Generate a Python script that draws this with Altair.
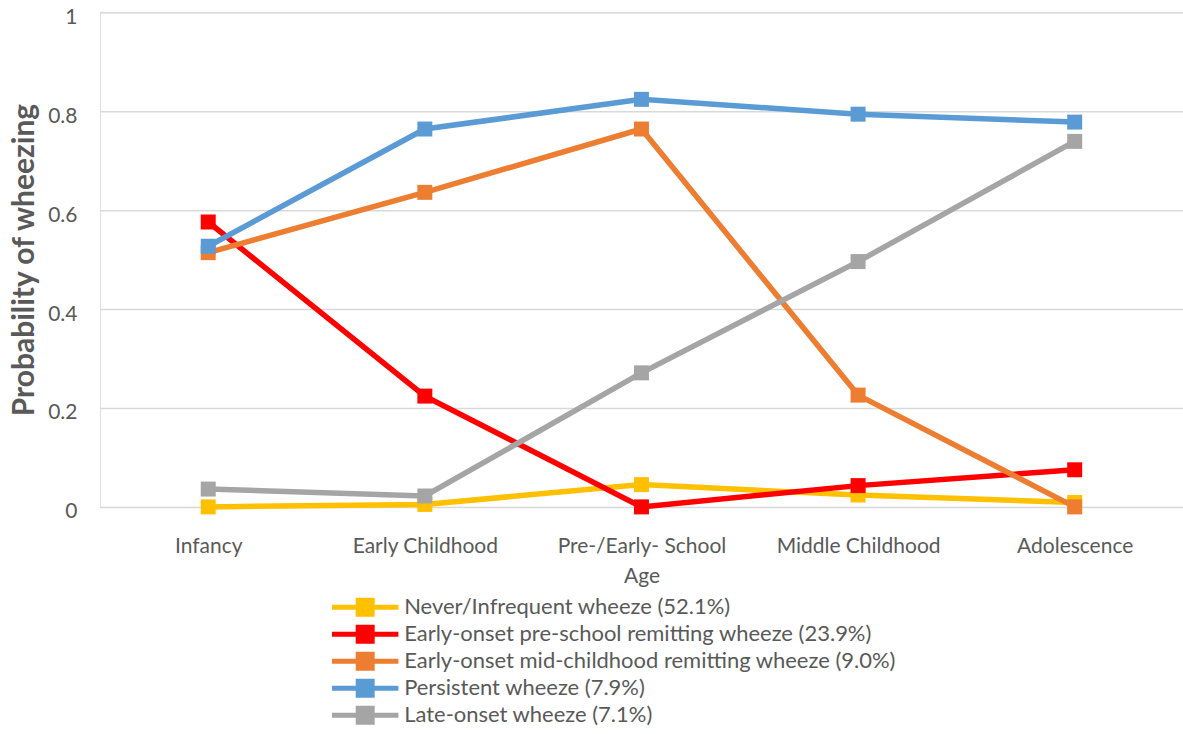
import altair as alt
import pandas as pd

stages = ["Infancy", "Early Childhood", "Pre-/Early- School Age", "Middle Childhood", "Adolescence"]
series = [
    "Never/Infrequent wheeze (52.1%)",
    "Early-onset pre-school remitting wheeze (23.9%)",
    "Early-onset mid-childhood remitting wheeze (9.0%)",
    "Persistent wheeze (7.9%)",
    "Late-onset wheeze (7.1%)",
]
colors = ["#FFC000", "#FF0000", "#ED7D31", "#5B9BD5", "#A5A5A5"]

never = [0.0, 0.005, 0.045, 0.024, 0.009]
preschool = [0.576, 0.224, 0.0, 0.043, 0.075]
midchild = [0.514, 0.636, 0.764, 0.226, 0.0]
persistent = [0.527, 0.764, 0.824, 0.794, 0.778]
late = [0.036, 0.022, 0.271, 0.496, 0.739]

values = [never, preschool, midchild, persistent, late]
rows = []
for s, vals in zip(series, values):
    for st, v in zip(stages, vals):
        rows.append({"stage": st, "series": s, "p": v})
df = pd.DataFrame(rows)

FONT = "Lato"
GREY = "#595959"
legend_path = "M-3.5,-0.27H3.5V0.27H-3.5Z M-1,-1H1V1H-1Z"

chart = alt.Chart(df).mark_line(
    strokeWidth=5.5,
    point=alt.OverlayMarkDef(shape="square", size=225, filled=True, opacity=1),
).encode(
    x=alt.X("stage:N", sort=stages, scale=alt.Scale(paddingOuter=0.5),
            axis=alt.Axis(title=None, labelAngle=0, labelFontSize=21, labelColor=GREY,
                          labelFont=FONT, labelPadding=29, labelLineHeight=30,
                          ticks=False, domain=False, grid=False,
                          labelExpr="datum.label == 'Pre-/Early- School Age' ? ['Pre-/Early- School', 'Age'] : datum.label")),
    y=alt.Y("p:Q", scale=alt.Scale(domain=[0, 1], nice=False),
            axis=alt.Axis(title="Probability of wheezing", values=[0, 0.2, 0.4, 0.6, 0.8, 1],
                          labelExpr="datum.value == 0 || datum.value == 1 ? format(datum.value, 'd') : format(datum.value, '.1f')",
                          labelFontSize=21, labelColor=GREY, labelFont=FONT, labelPadding=23,
                          labelFlush=False, labelOverlap=False, labelOffset=5,
                          ticks=False, domain=False, gridColor="#D9D9D9", gridWidth=1.5,
                          titleFont=FONT, titleFontSize=30, titleFontWeight="bold", titleColor=GREY,
                          titleX=-66, titleY=247.5, titleAngle=-90, titleBaseline="alphabetic",
                          titleAlign="center")),
    color=alt.Color("series:N", sort=series,
                    scale=alt.Scale(domain=series, range=colors),
                    legend=alt.Legend(title=None, orient="none", legendX=254.5, legendY=584.5,
                                      direction="vertical", columns=1,
                                      symbolType=legend_path, symbolSize=361,
                                      symbolStrokeWidth=0, symbolOpacity=1,
                                      labelFont=FONT, labelFontSize=22, labelColor=GREY,
                                      labelLimit=0,
                                      labelOffset=28, rowPadding=5, padding=0)),
).properties(
    width=1084, height=495,
    autosize=alt.AutoSizeParams(type="none"),
    padding={"left": 100, "top": 12, "right": 0, "bottom": 227},
).configure_view(stroke=None).configure(background="white")

chart.save("out.html", embed_options={"renderer": "svg", "actions": False})
